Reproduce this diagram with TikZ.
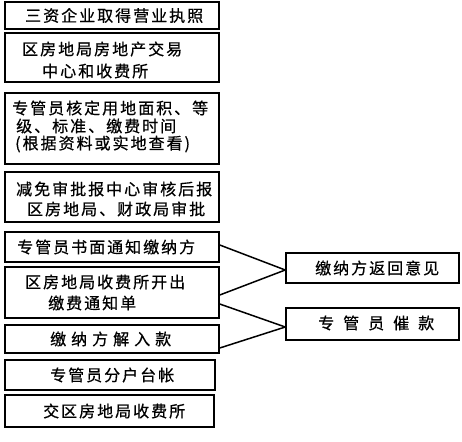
\documentclass[tikz,border=0pt]{standalone}
\usepackage{fontspec}
\newfontfamily\cjk[LetterSpace=12.5,FakeBold=0.6]{Noto Sans CJK SC}
\usetikzlibrary{calc}
\tikzset{
  box/.style={draw=black, line width=1.5pt, inner sep=0pt, fill=white},
  txt/.style={anchor=west, inner sep=0pt, font=\cjk\fontsize{16pt}{18pt}\selectfont},
  link/.style={draw=black, line width=1.5pt}
}
\newcommand{\gapA}{\hspace{5pt}}
\newcommand{\gapB}{\hspace{9pt}}
\begin{document}
\begin{tikzpicture}[x=1pt,y=-1pt]
\useasboundingbox[fill=white] (0,0) rectangle (462,441);
% boxes
\node[box, minimum width=214, minimum height=27] (b1) at (112,15.5) {};
\node[box, minimum width=214, minimum height=49] (b2) at (112,57.5) {};
\node[box, minimum width=214, minimum height=71] (b3) at (112,128.5) {};
\node[box, minimum width=214, minimum height=50] (b4) at (112,197) {};
\node[box, minimum width=214, minimum height=30] (b5) at (112,247) {};
\node[box, minimum width=214, minimum height=51] (b6) at (112,292.5) {};
\node[box, minimum width=214, minimum height=28] (b7) at (112,339) {};
\node[box, minimum width=210, minimum height=30] (b8) at (110,375) {};
\node[box, minimum width=209, minimum height=32] (b9) at (109.5,411) {};
\node[box, minimum width=173, minimum height=30] (bA) at (372.5,268) {};
\node[box, minimum width=173, minimum height=32] (bB) at (372.5,324) {};
% texts
\node[txt] (t1) at (25,15.5) {三资企业取得营业执照};
\node[txt] (t2a) at (22,49) {区房地局房地产交易};
\node[txt] (t2b) at (42,71) {中心和收费所};
\node[txt] (t3a) at (12,108) {专管员核定用地面积、等};
\node[txt] (t3b) at (16,126) {级、标准、缴费时间};
\node[txt] (t3c) at (15,144) {(根据资料或实地查看)};
\node[txt] (t4a) at (16,189) {减免审批报中心审核后报};
\node[txt] (t4b) at (27,209) {区房地局、财政局审批};
\node[txt] (t5) at (17,247) {专管员书面通知缴纳方};
\node[txt] (t6a) at (25,282) {区房地局收费所开出};
\node[txt] (t6b) at (48,303) {缴费通知单};
\node[txt] (t7) at (50,339) {缴\gapA 纳\gapA 方\gapA 解\gapA 入\gapA 款};
\node[txt] (t8) at (50,375) {专管员分户台帐};
\node[txt] (t9) at (43,411) {交区房地局收费所};
\node[txt] (tA) at (315,268) {缴纳方返回意见};
\node[txt] (tB) at (318,323) {专\gapB 管\gapB 员\gapB 催\gapB 款};
% connectors
\draw[link] ($(b5.east)+(0,-2)$) -- ($(bA.west)+(0,2)$);
\draw[link] ($(b6.east)+(0,2.5)$) -- ($(bA.west)+(0,2)$);
\draw[link] ($(b6.east)+(0,11.5)$) -- ($(bB.west)+(0,3)$);
\draw[link] ($(b7.east)+(0,9)$) -- ($(bB.west)+(0,3)$);
\end{tikzpicture}
\end{document}
